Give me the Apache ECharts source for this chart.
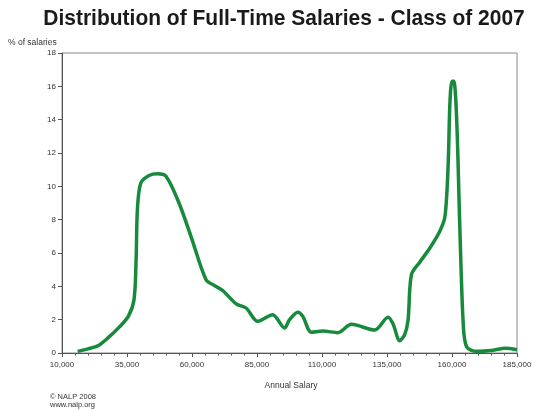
<!DOCTYPE html>
<html>
<head>
<meta charset="utf-8">
<script src="https://cdn.jsdelivr.net/npm/echarts@6/dist/echarts.min.js"></script>
<style>
  html, body { margin: 0; padding: 0; background: #fff; }
  #chart { width: 540px; height: 411px; }
</style>
</head>
<body>
<div id="chart"></div>
<script>
// 数据：年薪 / 占比
var salaries = [
  16000, 20000, 24000, 28000, 32000, 35500, 37700, 38500, 39000, 40300,
  43500, 46700, 50000, 55000, 59600, 65400, 68600, 71800, 77000, 80800,
  85300, 91000, 95600, 97500, 100700, 102600, 105900, 110300, 116100, 121300,
  130300, 135400, 137300, 139900, 141800, 143100, 144400, 147600, 151500, 155300,
  157300, 158500, 159200, 160000, 160700, 161800, 163000, 164300, 165600, 169500,
  175900, 180400, 185000
];
var percents = [
  0.1, 0.25, 0.45, 0.95, 1.55, 2.2, 3.2, 5.6, 8.6, 10.2,
  10.65, 10.75, 10.6, 9.0, 7.0, 4.4, 4.05, 3.75, 2.95, 2.7,
  1.9, 2.3, 1.5, 2.0, 2.45, 2.2, 1.25, 1.32, 1.22, 1.72,
  1.38, 2.15, 1.75, 0.74, 1.1, 1.98, 4.7, 5.45, 6.3, 7.3,
  8.2, 11.2, 15.0, 16.3, 16.3, 14.0, 7.6, 1.8, 0.38, 0.1,
  0.17, 0.28, 0.2
];
var xTicks = [10000, 35000, 60000, 85000, 110000, 135000, 160000, 185000];
var yTicks = [0, 2, 4, 6, 8, 10, 12, 14, 16, 18];

(function() {
  var myChart = echarts.init(document.getElementById("chart"));
  var points = salaries.map(function(s, i) {
    return [s, percents[i]];
  });
  var labelStyle = {
    color: "#333",
    fontSize: 8,
    fontFamily: "Liberation Sans",
  };

  var option = {
    animation: false,
    backgroundColor: "#fff",
    graphic: [
      {
        // 标题
        type: "text",
        x: 284,
        y: 7,
        scaleY: 1.08,
        style: {
          text: "Distribution of Full-Time Salaries - Class of 2007",
          fill: "#1a1a1a",
          fontSize: 21,
          fontWeight: "bold",
          fontFamily: "Liberation Sans",
          textAlign: "center",
        },
      },
      {
        type: "text",
        left: 8,
        top: 38,
        style: { text: "% of salaries", fill: "#333", fontSize: 8.5, fontFamily: "Liberation Sans" },
      },
      {
        type: "text",
        x: 291,
        y: 381,
        style: { text: "Annual Salary", fill: "#333", fontSize: 8.5, fontFamily: "Liberation Sans", textAlign: "center" },
      },
      {
        type: "text",
        left: 50,
        top: 393,
        style: {
          text: "© NALP 2008\nwww.nalp.org",
          fill: "#333",
          fontSize: 7.5,
          lineHeight: 8,
          fontFamily: "Liberation Sans",
        },
      },
    ],
    grid: {
      left: 62,
      right: 23,
      top: 53,
      bottom: 58,
      show: true,
      borderColor: "#888",
      borderWidth: 1,
    },
    xAxis: {
      type: "value",
      min: xTicks[0],
      max: xTicks[xTicks.length - 1],
      interval: 25000,
      axisLine: { lineStyle: { color: "#555" } },
      axisTick: { length: 4, lineStyle: { color: "#555" } },
      minorTick: { show: true, splitNumber: 5, length: 2.5, lineStyle: { color: "#555" } },
      splitLine: { show: false },
      axisLabel: Object.assign({
        margin: 8,
        formatter: function(v) {
          return v.toLocaleString("en-US");
        },
      }, labelStyle),
    },
    yAxis: {
      type: "value",
      min: yTicks[0],
      max: yTicks[yTicks.length - 1],
      interval: 2,
      axisLine: { show: true, lineStyle: { color: "#555" } },
      axisTick: { show: true, length: 4, lineStyle: { color: "#555" } },
      splitLine: { show: false },
      axisLabel: Object.assign({ margin: 6 }, labelStyle),
    },
    series: [
      {
        type: "line",
        data: points,
        smooth: 0.3,
        showSymbol: false,
        lineStyle: { color: "#178a3c", width: 3.5 },
      },
    ],
  };

  myChart.setOption(option);
  window.addEventListener("resize", function() {
    myChart.resize();
  });
})();
</script>
</body>
</html>
